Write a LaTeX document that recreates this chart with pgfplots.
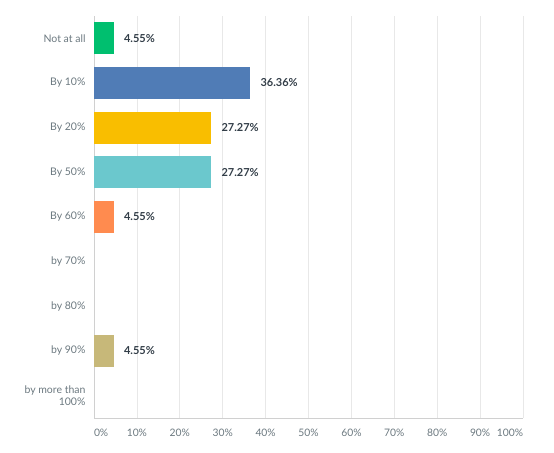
\documentclass[border=0pt]{standalone}
\usepackage{pgfplots}
\pgfplotsset{compat=1.18}
\usepackage{fontspec}
\setmainfont{Lato}
\definecolor{cgreen}{HTML}{00BF6F}
\definecolor{cblue}{HTML}{507CB6}
\definecolor{cyellow}{HTML}{F9BE00}
\definecolor{cteal}{HTML}{6BC8CD}
\definecolor{corange}{HTML}{FF8B4F}
\definecolor{cpurple}{HTML}{7F7FFF}
\definecolor{cpink}{HTML}{D25F90}
\definecolor{ctan}{HTML}{C7B879}
\definecolor{cgray}{HTML}{A0A0A0}
\definecolor{labgray}{HTML}{6B787F}
\definecolor{valdark}{HTML}{333E48}
\definecolor{gridc}{HTML}{E8E8E8}
\definecolor{axisc}{HTML}{D0D0D0}
\begin{document}
\begin{tikzpicture}
\path[use as bounding box] (0,0) rectangle (554bp,453bp);
\begin{axis}[
  at={(94bp,35bp)}, anchor=south west,
  scale only axis, width=429bp, height=402bp,
  xbar, bar width=32bp, bar shift=0pt,
  xmin=0, xmax=100, ymin=-0.5, ymax=8.5, y dir=reverse,
  axis x line*=bottom, axis y line*=left,
  axis line style={draw=axisc, line width=0.8pt, -},
  major tick length=0pt,
  xmajorgrids, grid style={draw=gridc, line width=0.7pt},
  xtick={0,10,...,100},
  xticklabels={\phantom{0\%}0\%,10\%,20\%,30\%,40\%,50\%,60\%,70\%,80\%,90\%,100\%\phantom{100\%}},
  xticklabel style={font=\fontsize{10.3bp}{12bp}\selectfont, text=labgray, yshift=-8bp},
  ytick={0,...,8},
  yticklabels={Not at all,By 10\%,By 20\%,By 50\%,By 60\%,by 70\%,by 80\%,by 90\%,by more than\\100\%},
  yticklabel style={font=\fontsize{10.5bp}{11.5bp}\selectfont, text=labgray, align=right, xshift=-5bp},
  /pgf/number format/assume math mode=true,
  nodes near coords={\pgfmathprintnumber[fixed,precision=2,fixed zerofill,assume math mode=true]{\pgfplotspointmeta}\%},
  nodes near coords style={anchor=west, xshift=7bp, font=\bfseries\fontsize{11bp}{12bp}\selectfont, text=valdark},
  point meta=x,
  clip=false,
]
\addplot[fill=cgreen, draw=none] coordinates {(4.55,0)};
\addplot[fill=cblue, draw=none] coordinates {(36.36,1)};
\addplot[fill=cyellow, draw=none] coordinates {(27.27,2)};
\addplot[fill=cteal, draw=none] coordinates {(27.27,3)};
\addplot[fill=corange, draw=none] coordinates {(4.55,4)};
\addplot[fill=cpurple, fill opacity=0, draw=none, nodes near coords={}] coordinates {(0,5)};
\addplot[fill=cpink, fill opacity=0, draw=none, nodes near coords={}] coordinates {(0,6)};
\addplot[fill=ctan, draw=none] coordinates {(4.55,7)};
\addplot[fill=cgray, fill opacity=0, draw=none, nodes near coords={}] coordinates {(0,8)};
\end{axis}
\end{tikzpicture}
\end{document}
